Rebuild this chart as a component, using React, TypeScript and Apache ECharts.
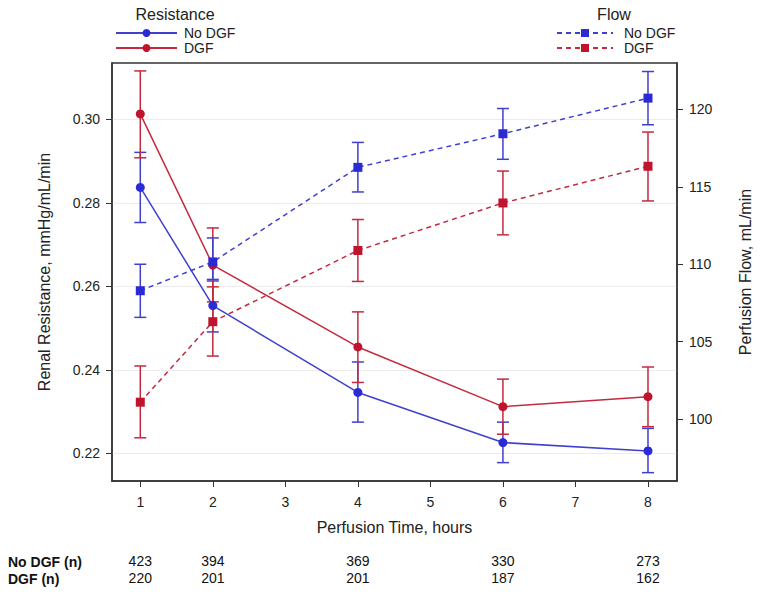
import React, { useEffect, useRef } from "react";
import * as echarts from "echarts";

const hours = [1, 2, 4, 6, 8];
const xTicks = [1, 2, 3, 4, 5, 6, 7, 8];
const leftTicks = [0.22, 0.24, 0.26, 0.28, 0.3];
const rightTicks = [100, 105, 110, 115, 120];

const resNoDgf = [0.2837, 0.2554, 0.2346, 0.2226, 0.2206];
const resNoDgfLo = [0.2753, 0.2491, 0.2275, 0.2178, 0.2154];
const resNoDgfHi = [0.2921, 0.2613, 0.2419, 0.2275, 0.226];

const resDgf = [0.3013, 0.2651, 0.2455, 0.2312, 0.2336];
const resDgfLo = [0.2908, 0.2563, 0.237, 0.2246, 0.2264];
const resDgfHi = [0.3116, 0.274, 0.2539, 0.2378, 0.2407];

const flowNoDgf = [108.29, 110.15, 116.26, 118.43, 120.73];
const flowNoDgfLo = [106.57, 109.02, 114.67, 116.78, 119.01];
const flowNoDgfHi = [110.0, 111.7, 117.87, 120.06, 122.45];

const flowDgf = [101.09, 106.29, 110.89, 113.96, 116.33];
const flowDgfLo = [98.79, 104.07, 108.89, 111.9, 114.09];
const flowDgfHi = [103.43, 108.54, 112.89, 116.02, 118.54];

const nNoDgf = [423, 394, 369, 330, 273];
const nDgf = [220, 201, 201, 187, 162];

const BLUE = "#2a2ad6";
const BLUE_LINE = "#4040d0";
const RED = "#c0142e";
const RED_LINE = "#c42a3e";
const FONT = "'Liberation Sans', Arial, sans-serif";

function errRender(color: string) {
  return (params: any, api: any) => {
    const x = api.value(0);
    const lo = api.value(1);
    const hi = api.value(2);
    const pLo = api.coord([x, lo]);
    const pHi = api.coord([x, hi]);
    const w = 6;
    const style = { stroke: color, lineWidth: 1.5, fill: "none" };
    return {
      type: "group",
      children: [
        { type: "line", shape: { x1: pLo[0], y1: pLo[1], x2: pHi[0], y2: pHi[1] }, style },
        { type: "line", shape: { x1: pLo[0] - w, y1: pLo[1], x2: pLo[0] + w, y2: pLo[1] }, style },
        { type: "line", shape: { x1: pHi[0] - w, y1: pHi[1], x2: pHi[0] + w, y2: pHi[1] }, style },
      ],
    };
  };
}

function errSeries(name: string, lo: number[], hi: number[], color: string, yAxisIndex: number) {
  return {
    type: "custom",
    name,
    xAxisIndex: 0,
    yAxisIndex,
    renderItem: errRender(color),
    encode: { x: 0, y: [1, 2] },
    data: hours.map((h, i) => [h, lo[i], hi[i]]),
    z: 2,
    silent: true,
  };
}

function countAxis(counts: number[], offset: number) {
  return {
    type: "value",
    gridIndex: 0,
    position: "bottom",
    offset,
    min: 0.61,
    max: 8.4,
    axisLine: { show: false },
    axisTick: { show: false },
    splitLine: { show: false },
    axisLabel: {
      customValues: hours,
      margin: 0,
      fontSize: 14,
      fontFamily: FONT,
      color: "#111",
      formatter: (v: number) => {
        const i = hours.indexOf(Math.round(v));
        return i >= 0 ? String(counts[i]) : "";
      },
    },
  };
}

export default function App() {
  const ref = useRef<HTMLDivElement>(null);
  useEffect(() => {
    if (!ref.current) return;
    const chart = echarts.init(ref.current, undefined, { renderer: "svg" });
    const axisText = { fontSize: 14, fontFamily: FONT, color: "#222" };
    const nameText = { fontSize: 16, fontFamily: FONT, color: "#222" };
    const legendFmt = (n: string) => n.replace(/^(Resistance|Flow) /, "");
    chart.setOption({
      animation: false,
      backgroundColor: "#ffffff",
      grid: {
        left: 112,
        right: 87,
        top: 63,
        bottom: 115,
        show: true,
        borderColor: "#333",
        borderWidth: 1.5,
        backgroundColor: "transparent",
      },
      legend: [
        {
          left: 115,
          top: 26,
          padding: 0,
          orient: "vertical",
          itemWidth: 61,
          itemHeight: 10,
          itemGap: 1,
          data: ["Resistance No DGF", "Resistance DGF"],
          formatter: legendFmt,
          textStyle: { fontSize: 14, lineHeight: 10, fontFamily: FONT, color: "#222", padding: [0, 0, 0, 2] },
          selectedMode: false,
        },
        {
          left: 556,
          top: 26,
          padding: 0,
          orient: "vertical",
          itemWidth: 56,
          itemHeight: 10,
          itemGap: 1,
          data: ["Flow No DGF", "Flow DGF"],
          formatter: legendFmt,
          textStyle: { fontSize: 14, lineHeight: 10, fontFamily: FONT, color: "#222", padding: [0, 0, 0, 6] },
          selectedMode: false,
        },
      ],
      xAxis: [
        {
          type: "value",
          min: 0.61,
          max: 8.4,
          name: "Perfusion Time, hours",
          nameLocation: "middle",
          nameGap: 38,
          nameTextStyle: nameText,
          axisLine: { show: true, lineStyle: { color: "#333", width: 1.5 } },
          axisTick: { show: true, customValues: xTicks, length: 6, lineStyle: { color: "#333" } },
          axisLabel: { ...axisText, customValues: xTicks, margin: 14 },
          splitLine: { show: false },
        },
        countAxis(nNoDgf, 73),
        countAxis(nDgf, 90),
      ],
      yAxis: [
        {
          type: "value",
          min: 0.2134,
          max: 0.3135,
          name: "Renal Resistance, mmHg/mL/min",
          nameLocation: "middle",
          nameGap: 60,
          nameTextStyle: nameText,
          axisLine: { show: true, lineStyle: { color: "#333", width: 1.5 } },
          axisTick: { show: true, customValues: leftTicks, length: 6, lineStyle: { color: "#333" } },
          axisLabel: {
            ...axisText,
            customValues: leftTicks,
            margin: 12,
            formatter: (v: number) => v.toFixed(2),
          },
          splitLine: { show: true, lineStyle: { color: "#ececec", width: 1 } },
        },
        {
          type: "value",
          position: "right",
          min: 96,
          max: 123,
          name: "Perfusion Flow, mL/min",
          nameLocation: "middle",
          nameGap: 60,
          nameTextStyle: nameText,
          axisLine: { show: true, lineStyle: { color: "#333", width: 1.5 } },
          axisTick: { show: true, customValues: rightTicks, length: 6, lineStyle: { color: "#333" } },
          axisLabel: { ...axisText, customValues: rightTicks, margin: 12 },
          splitLine: { show: false },
        },
      ],
      graphic: [
        {
          type: "text",
          x: 175,
          y: 14,
          style: { text: "Resistance", font: `16px ${FONT}`, fill: "#222", align: "center", verticalAlign: "middle" },
        },
        {
          type: "text",
          x: 614,
          y: 14,
          style: { text: "Flow", font: `16px ${FONT}`, fill: "#222", align: "center", verticalAlign: "middle" },
        },
        {
          type: "text",
          x: 8,
          y: 562,
          style: { text: "No DGF (n)", font: `bold 14px ${FONT}`, fill: "#111", verticalAlign: "middle" },
        },
        {
          type: "text",
          x: 8,
          y: 579,
          style: { text: "DGF (n)", font: `bold 14px ${FONT}`, fill: "#111", verticalAlign: "middle" },
        },
      ],
      series: [
        errSeries("errResNo", resNoDgfLo, resNoDgfHi, BLUE_LINE, 0),
        errSeries("errResDgf", resDgfLo, resDgfHi, RED_LINE, 0),
        errSeries("errFlowNo", flowNoDgfLo, flowNoDgfHi, BLUE_LINE, 1),
        errSeries("errFlowDgf", flowDgfLo, flowDgfHi, RED_LINE, 1),
        {
          type: "line",
          name: "Resistance No DGF",
          yAxisIndex: 0,
          data: hours.map((h, i) => [h, resNoDgf[i]]),
          symbol: "circle",
          symbolSize: 9,
          lineStyle: { color: BLUE_LINE, width: 1.5 },
          itemStyle: { color: BLUE },
          z: 3,
        },
        {
          type: "line",
          name: "Resistance DGF",
          yAxisIndex: 0,
          data: hours.map((h, i) => [h, resDgf[i]]),
          symbol: "circle",
          symbolSize: 9,
          lineStyle: { color: RED_LINE, width: 1.5 },
          itemStyle: { color: RED },
          z: 3,
        },
        {
          type: "line",
          name: "Flow No DGF",
          yAxisIndex: 1,
          data: hours.map((h, i) => [h, flowNoDgf[i]]),
          symbol: "rect",
          symbolSize: 9,
          lineStyle: { color: BLUE_LINE, width: 1.5, type: [5, 4] },
          itemStyle: { color: BLUE },
          z: 3,
        },
        {
          type: "line",
          name: "Flow DGF",
          yAxisIndex: 1,
          data: hours.map((h, i) => [h, flowDgf[i]]),
          symbol: "rect",
          symbolSize: 9,
          lineStyle: { color: RED_LINE, width: 1.5, type: [5, 4] },
          itemStyle: { color: RED },
          z: 3,
        },
      ],
    });
    return () => chart.dispose();
  }, []);
  return (
    <div
      ref={ref}
      style={{ position: "fixed", left: 0, top: 0, width: 764, height: 596, background: "#fff" }}
    />
  );
}
